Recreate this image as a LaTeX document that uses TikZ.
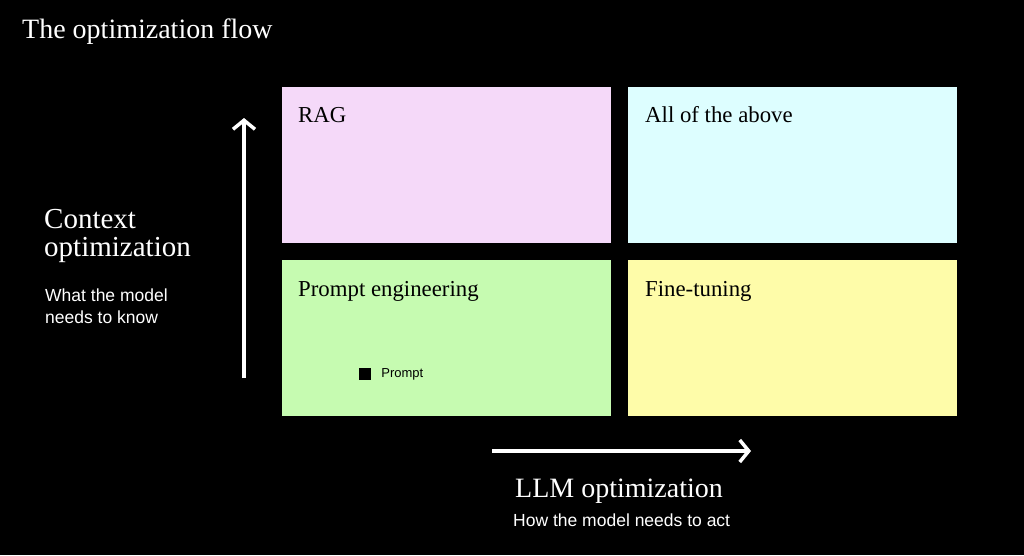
\documentclass[tikz,border=0pt]{standalone}
\usepackage{fontspec}
\setmainfont{Liberation Serif}
\setsansfont{Liberation Sans}
\usetikzlibrary{arrows.meta,positioning}
\definecolor{ragpink}{HTML}{F5D9F9}
\definecolor{allcyan}{HTML}{DDFEFF}
\definecolor{promptgreen}{HTML}{C6FBB1}
\definecolor{tuneyellow}{HTML}{FEFCA9}
\begin{document}
\begin{tikzpicture}[x=1pt,y=-1pt, >={Straight Barb[length=9pt,width=22pt,line width=3.5pt]}]
  \tikzset{quad/.style={rectangle, inner sep=0pt, anchor=north west,
      minimum width=329pt, minimum height=156pt},
    quadlabel/.style={anchor=base west, inner sep=0pt, font=\fontsize{22.8}{26}\selectfont},
    bigtext/.style={anchor=base west, inner sep=0pt, text=white, align=left,
      font=\fontsize{28}{28}\selectfont},
    smalltext/.style={anchor=base west, inner sep=0pt, text=white, align=left,
      font=\sffamily\fontsize{17.5}{22}\selectfont},
    axis/.style={white, line width=3.5pt, ->}}
  \fill[black] (0,0) rectangle (1024,555);
  \useasboundingbox (0,0) rectangle (1024,555);
  % title
  \node[bigtext] (title) at (22,38) {The optimization flow};
  % the four quadrants
  \node[quad, fill=ragpink] (rag) at (282,87) {};
  \node[quad, fill=allcyan] (all) at (628,87) {};
  \node[quad, fill=promptgreen] (prompt) at (282,260) {};
  \node[quad, fill=tuneyellow] (tune) at (628,260) {};
  \node[quadlabel] (raglabel) at ([shift={(16,35)}]rag.north west) {RAG};
  \node[quadlabel] (alllabel) at ([shift={(17,35)}]all.north west) {All of the above};
  \node[quadlabel] (promptlabel) at ([shift={(16,36)}]prompt.north west) {Prompt engineering};
  \node[quadlabel] (tunelabel) at ([shift={(17,36)}]tune.north west) {Fine-tuning};
  % legend
  \node[fill=black, minimum size=12pt, inner sep=0pt] (mark) at (365,374) {};
  \node[anchor=west, inner sep=0pt, font=\sffamily\fontsize{13}{14}\selectfont,
        right=10pt of mark] (marklabel) {Prompt};
  % axes
  \coordinate (ybot) at (244,378);
  \coordinate (ytop) at (244,118);
  \coordinate (xleft) at (492,451);
  \coordinate (xright) at (751,451);
  \draw[axis] (ybot) -- (ytop);
  \draw[axis] (xleft) -- (xright);
  \node[bigtext, font=\fontsize{29}{28}\selectfont] (ctx) at (44,256) {Context\\optimization};
  \node[smalltext] (ctxsub) at (45,323) {What the model\\needs to know};
  \node[bigtext] (llm) at (515,497) {LLM optimization};
  \node[smalltext] (llmsub) at (513,526) {How the model needs to act};
\end{tikzpicture}
\end{document}
